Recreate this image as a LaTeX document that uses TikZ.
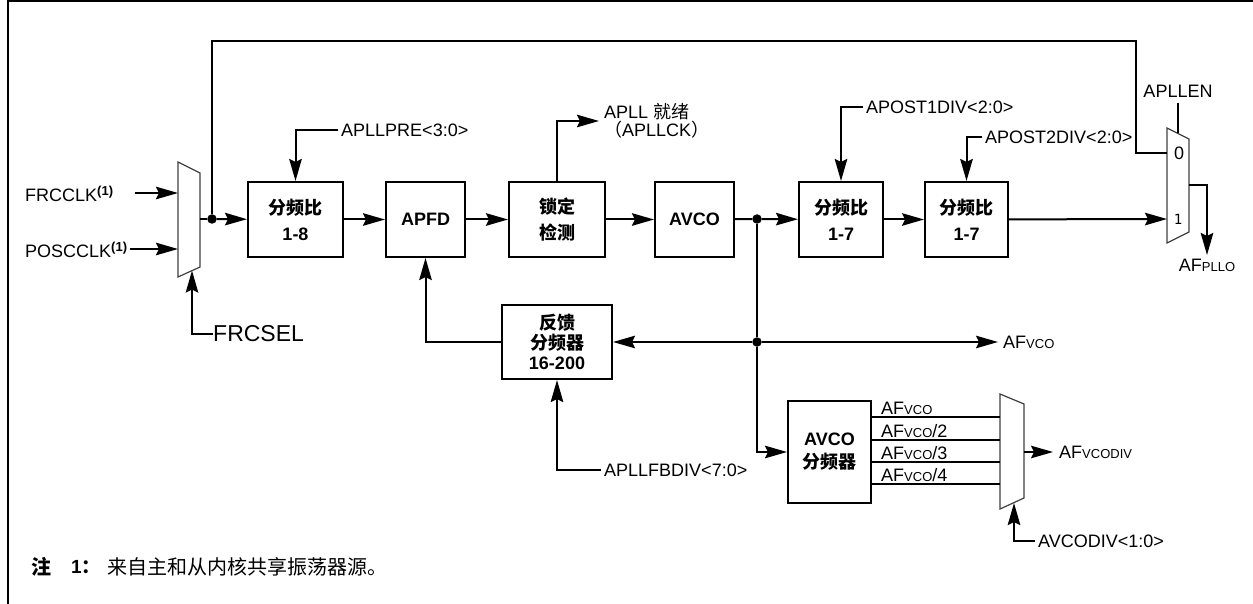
\documentclass[tikz,border=0pt]{standalone}
\usepackage{fontspec}
\setmainfont{Liberation Sans}
\newfontfamily\cjk{Noto Sans CJK SC}
\newfontfamily\monof{DejaVu Sans Mono}
\usetikzlibrary{arrows.meta}
\newcommand\lowcap[1]{{\fontsize{13}{13}\selectfont #1}}
\newcommand\noteone{\raisebox{6pt}{\fontsize{13}{13}\selectfont\bfseries (1)}}
\begin{document}
\begin{tikzpicture}[x=1pt,y=-1pt,
  box/.style={draw, line width=2pt, inner sep=0pt, align=center, font=\bfseries\fontsize{18}{26}\selectfont},
  lbl/.style={inner xsep=3pt, inner ysep=0pt, text height=13pt, text depth=0pt, font=\fontsize{18}{18}\selectfont},
  wire/.style={line width=2pt},
  arr/.style={wire, -{Stealth[length=22pt,width=12.5pt,inset=3pt]}},
  muxs/.style={draw, line width=1.2pt, black!75},
  dotn/.style={circle, fill, inner sep=0pt, minimum size=9.5pt},
]
\useasboundingbox (0,0) rectangle (1253,604);
\draw[line width=2pt] (8,604) -- (8,1) -- (1253,1);

% input mux
\draw[muxs] (178,162) -- (200,173) -- (200,267) -- (178,277) -- cycle;
\coordinate (m1a) at (178,193);
\coordinate (m1b) at (178,249);
\coordinate (m1o) at (200,219);
\coordinate (m1s) at (192,270.6);
\coordinate (fa) at (135,193);

\node[lbl, anchor=west] (frc) at (22,195) {FRCCLK\noteone};
\node[lbl, anchor=west] (pos) at (22,251) {POSCCLK\noteone};
\draw[arr] (fa) -- (m1a);
\draw[arr] (pos.east |- m1b) -- (m1b);

\node[lbl, font=\fontsize{23}{23}\selectfont, text height=16.5pt, anchor=west, inner xsep=0pt] (sel) at (213,333.5) {FRCSEL};
\draw[arr] (sel.west) -| (m1s);

% main chain
\node[dotn] (j1) at (212,219) {};
\node[box, minimum width=95pt, minimum height=75pt] (b1) at (295.5,219.5) {{\cjk 分频比}\\1-8};
\node[box, minimum width=79pt, minimum height=75pt] (apfd) at (425.5,219.5) {APFD};
\node[box, minimum width=96pt, minimum height=75pt] (lock) at (557,219.5) {{\cjk 锁定}\\{\cjk 检测}};
\node[box, minimum width=79pt, minimum height=75pt] (avco) at (694.5,219.5) {AVCO};
\node[dotn] (j2) at (757,219) {};
\node[box, minimum width=84pt, minimum height=75pt] (d1) at (841,219.5) {{\cjk 分频比}\\1-7};
\node[box, minimum width=83pt, minimum height=75pt] (d2) at (966.5,219.5) {{\cjk 分频比}\\1-7};

\draw[wire] (m1o) -- (j1);
\draw[arr] (j1) -- (b1);
\draw[arr] (b1) -- (apfd);
\draw[arr] (apfd) -- (lock);
\draw[arr] (lock) -- (avco);
\draw[wire] (avco) -- (j2);
\draw[arr] (j2) -- (d1);
\draw[arr] (d1) -- (d2);

% output mux
\draw[muxs] (1167,128) -- (1189,139) -- (1189,232) -- (1167,243) -- cycle;
\coordinate (m2a) at (1167,153);
\coordinate (m2b) at (1167,219);
\coordinate (m2o) at (1189,185);
\coordinate (m2t) at (1178,133.5);
\coordinate (tl) at (1136,41);
\node[inner sep=0pt, font=\fontsize{18}{18}\selectfont] (zero) at (1179,153) {0};
\node[inner sep=0pt, font=\monof\fontsize{14}{14}\selectfont] (one) at (1178,219) {1};
\draw[wire] (j1) |- (tl) |- (m2a);
\draw[arr] (d2) -- (m2b);

\node[lbl, anchor=south, inner ysep=5pt] (en) at (1178,103) {APLLEN};
\draw[wire] (en) -- (m2t);
\node[lbl, anchor=north, inner ysep=3pt] (afp) at (1207,255) {AF\lowcap{PLLO}};
\draw[arr] (m2o) -| (afp.north);

% control labels
\node[lbl, anchor=west] (pre) at (338,130) {APLLPRE<3:0>};
\draw[arr] (pre.west) -| (b1.north);
\node[anchor=west, inner xsep=5pt, inner ysep=0pt, align=left, font=\fontsize{18}{18}\selectfont] (ck) at (599,121) {APLL {\cjk 就绪}\\{\cjk （}APLLCK{\cjk ）}};
\draw[arr] (lock.north) |- (ck.west);
\node[lbl, anchor=west] (p1) at (863,107) {APOST1DIV<2:0>};
\draw[arr] (p1.west) -| (d1.north);
\node[lbl, anchor=west] (p2) at (982,137) {APOST2DIV<2:0>};
\draw[arr] (p2.west) -| (d2.north);

% feedback
\node[box, font=\bfseries\fontsize{18}{20}\selectfont, minimum width=110pt, minimum height=74pt] (fb) at (557,342) {{\cjk 反馈}\\{\cjk 分频器}\\16-200};
\node[dotn] (j3) at (757,342) {};
\node[lbl, anchor=west, inner xsep=5pt] (afv) at (998,342) {AF\lowcap{VCO}};
\draw[wire] (j2) -- (j3);
\draw[arr] (j3) -- (fb);
\draw[arr] (j3) -- (afv.west);
\draw[arr] (fb.west) -| (apfd.south);
\node[lbl, anchor=west] (fbd) at (601,470) {APLLFBDIV<7:0>};
\draw[arr] (fbd.west) -| (fb.south);

% AVCO divider
\node[box, font=\bfseries\fontsize{18}{23}\selectfont, minimum width=83pt, minimum height=102pt] (avd) at (829.5,452) {AVCO\\{\cjk 分频器}};
\draw[arr] (j3) |- (avd.west);
\draw[muxs] (1000,394) -- (1024,404) -- (1024,498) -- (1000,509) -- cycle;
\coordinate (o1) at (1000,417);
\coordinate (o2) at (1000,440);
\coordinate (o3) at (1000,462);
\coordinate (o4) at (1000,484);
\foreach \c in {o1,o2,o3,o4} \draw[wire] (avd.east |- \c) -- (\c);
\node[anchor=base west, inner sep=0pt, font=\fontsize{18}{18}\selectfont] (t1) at (881,414) {AF\lowcap{VCO}};
\node[anchor=base west, inner sep=0pt, font=\fontsize{18}{18}\selectfont] (t2) at (881,437) {AF\lowcap{VCO}/2};
\node[anchor=base west, inner sep=0pt, font=\fontsize{18}{18}\selectfont] (t3) at (881,459) {AF\lowcap{VCO}/3};
\node[anchor=base west, inner sep=0pt, font=\fontsize{18}{18}\selectfont] (t4) at (881,481) {AF\lowcap{VCO}/4};
\coordinate (m3o) at (1024,452);
\coordinate (m3s) at (1014,503);
\node[lbl, anchor=west, inner xsep=6pt] (afd) at (1053,452) {AF\lowcap{VCODIV}};
\draw[arr] (m3o) -- (afd.west);
\node[lbl, anchor=west] (acd) at (1035,541) {AVCODIV<1:0>};
\draw[arr] (acd.west) -| (m3s);

% note
\node[anchor=west, inner sep=0pt, font=\cjk\bfseries\fontsize{20}{20}\selectfont] (n1) at (31,567) {注};
\node[anchor=west, inner sep=0pt, font=\bfseries\fontsize{19}{19}\selectfont] (n2) at (71,567) {1{\cjk ：}};
\node[anchor=west, inner sep=0pt, font=\cjk\fontsize{20}{20}\selectfont] (n3) at (107,567) {来自主和从内核共享振荡器源。};
\end{tikzpicture}
\end{document}
